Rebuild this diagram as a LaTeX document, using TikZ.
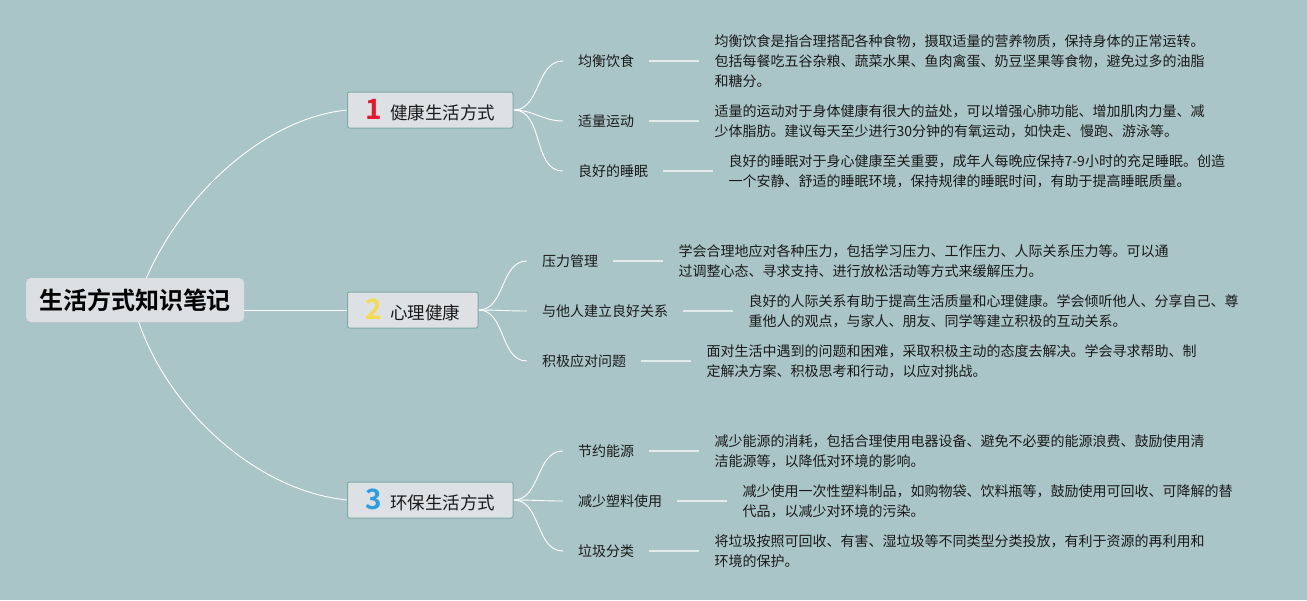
\documentclass[tikz,border=0pt]{standalone}
\usepackage{fontspec}
\setmainfont{Noto Sans CJK SC}[BoldFont={Noto Sans CJK SC Bold}]
\usetikzlibrary{positioning}
\definecolor{bgteal}{HTML}{AAC5C7}
\definecolor{rootgrey}{HTML}{DCDFE2}
\definecolor{boxgrey}{HTML}{DEE1E4}
\definecolor{boxedge}{HTML}{7DA9A7}
\definecolor{ink}{HTML}{1A1A1A}
\definecolor{stubwhite}{HTML}{E2EBEC}
\definecolor{numred}{HTML}{E3172D}
\definecolor{numyellow}{HTML}{F4DA4C}
\definecolor{numblue}{HTML}{2B9EE0}
\pgfdeclarelayer{bg}
\pgfdeclarelayer{wires}
\pgfsetlayers{bg,wires,main}
\newcommand{\topicnum}[2]{{\fontsize{28}{28}\selectfont\bfseries\color{#1}#2}\hspace{8pt}}
\begin{document}
\begin{tikzpicture}[x=1pt,y=-1pt,
  rootbox/.style={fill=rootgrey,rounded corners=5pt,inner xsep=13pt,inner ysep=0pt,minimum height=44pt,font=\fontsize{24}{28}\selectfont\bfseries,text=black},
  topicbox/.style={fill=boxgrey,draw=boxedge,line width=1pt,rounded corners=2pt,inner xsep=18pt,inner ysep=0pt,minimum height=36pt,anchor=west,font=\fontsize{17.5}{20}\selectfont,text=ink},
  subitem/.style={inner xsep=15pt,inner ysep=2pt,anchor=west,font=\fontsize{14}{20}\selectfont,text=ink},
  note/.style={inner xsep=15pt,inner ysep=2pt,align=left,font=\fontsize{14}{20}\selectfont,text=ink},
  wire/.style={white,line width=0.9pt},
  stub/.style={draw=stubwhite,line width=1.8pt}]
\useasboundingbox (0,0) rectangle (1307,600);
\begin{pgfonlayer}{bg}
\fill[bgteal] (0,0) rectangle (1307,600);
\end{pgfonlayer}

% Root topic
\node[rootbox] (root) at (135,300) {生活方式知识笔记};

% Main branches
\node[topicbox] (b1) at (347,110) {\topicnum{numred}{1}健康生活方式};
\node[topicbox] (b2) at (347,310) {\topicnum{numyellow}{2}心理健康};
\node[topicbox] (b3) at (347,500) {\topicnum{numblue}{3}环保生活方式};

% Branch 1 items
\node[subitem] (s11) at (563,61) {均衡饮食};
\node[subitem] (s12) at (563,121) {适量运动};
\node[subitem] (s13) at (563,171) {良好的睡眠};
\node[note,right=50pt of s11] (n11) {均衡饮食是指合理搭配各种食物，摄取适量的营养物质，保持身体的正常运转。\\包括每餐吃五谷杂粮、蔬菜水果、鱼肉禽蛋、奶豆坚果等食物，避免过多的油脂\\和糖分。};
\node[note,right=50pt of s12] (n12) {适量的运动对于身体健康有很大的益处，可以增强心肺功能、增加肌肉力量、减\\少体脂肪。建议每天至少进行30分钟的有氧运动，如快走、慢跑、游泳等。};
\node[note,right=50pt of s13] (n13) {良好的睡眠对于身心健康至关重要，成年人每晚应保持7-9小时的充足睡眠。创造\\一个安静、舒适的睡眠环境，保持规律的睡眠时间，有助于提高睡眠质量。};

% Branch 2 items
\node[subitem] (s21) at (527,261) {压力管理};
\node[subitem] (s22) at (527,311) {与他人建立良好关系};
\node[subitem] (s23) at (527,361) {积极应对问题};
\node[note,right=50pt of s21] (n21) {学会合理地应对各种压力，包括学习压力、工作压力、人际关系压力等。可以通\\过调整心态、寻求支持、进行放松活动等方式来缓解压力。};
\node[note,right=50pt of s22] (n22) {良好的人际关系有助于提高生活质量和心理健康。学会倾听他人、分享自己、尊\\重他人的观点，与家人、朋友、同学等建立积极的互动关系。};
\node[note,right=50pt of s23] (n23) {面对生活中遇到的问题和困难，采取积极主动的态度去解决。学会寻求帮助、制\\定解决方案、积极思考和行动，以应对挑战。};

% Branch 3 items
\node[subitem] (s31) at (563,451) {节约能源};
\node[subitem] (s32) at (563,501) {减少塑料使用};
\node[subitem] (s33) at (563,551) {垃圾分类};
\node[note,right=50pt of s31] (n31) {减少能源的消耗，包括合理使用电器设备、避免不必要的能源浪费、鼓励使用清\\洁能源等，以降低对环境的影响。};
\node[note,right=50pt of s32] (n32) {减少使用一次性塑料制品，如购物袋、饮料瓶等，鼓励使用可回收、可降解的替\\代品，以减少对环境的污染。};
\node[note,right=50pt of s33] (n33) {将垃圾按照可回收、有害、湿垃圾等不同类型分类投放，有利于资源的再利用和\\环境的保护。};

% Connectors
\begin{pgfonlayer}{wires}
\draw[wire] ([yshift=-10pt]root.center) .. controls +(25,-90) and +(-97,10) .. (b1.west);
\draw[wire] ([yshift=-10pt]root.center) -- (b2.west);
\draw[wire] ([yshift=-10pt]root.center) .. controls +(25,90) and +(-97,-10) .. (b3.west);
\foreach \b in {1,2,3}
  \foreach \i in {1,2,3} {
    \draw[wire] (b\b.east) to[out=0,in=180] (s\b\i.west);
    \draw[stub] (s\b\i.east) -- (n\b\i.west);
  }
\end{pgfonlayer}
\end{tikzpicture}
\end{document}
